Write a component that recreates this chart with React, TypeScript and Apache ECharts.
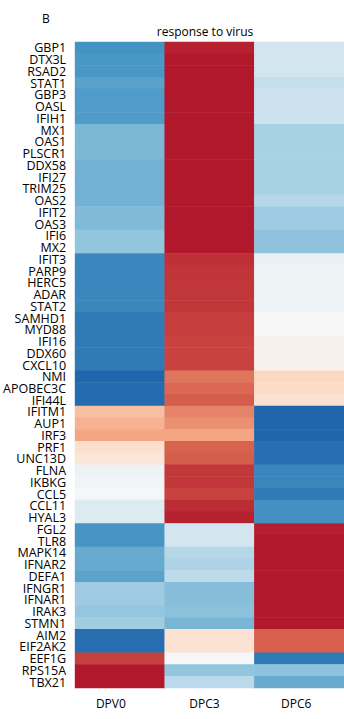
import React, { useEffect, useRef } from "react";
import * as echarts from "echarts";

// Genes of the "response to virus" set, top to bottom
const genes = [
  "GBP1", "DTX3L", "RSAD2", "STAT1", "GBP3", "OASL", "IFIH1", "MX1", "OAS1", "PLSCR1",
  "DDX58", "IFI27", "TRIM25", "OAS2", "IFIT2", "OAS3", "IFI6", "MX2", "IFIT3", "PARP9",
  "HERC5", "ADAR", "STAT2", "SAMHD1", "MYD88", "IFI16", "DDX60", "CXCL10", "NMI", "APOBEC3C",
  "IFI44L", "IFITM1", "AUP1", "IRF3", "PRF1", "UNC13D", "FLNA", "IKBKG", "CCL5", "CCL11",
  "HYAL3", "FGL2", "TLR8", "MAPK14", "IFNAR2", "DEFA1", "IFNGR1", "IFNAR1", "IRAK3", "STMN1",
  "AIM2", "EIF2AK2", "EEF1G", "RPS15A", "TBX21",
];

const conditions = ["DPV0", "DPC3", "DPC6"];

// Scaled expression per condition (-1 = lowest, +1 = highest)
const dpv0Values = [
  -0.75, -0.73, -0.73, -0.68, -0.71, -0.71, -0.71, -0.57, -0.57, -0.57,
  -0.6, -0.6, -0.6, -0.6, -0.555, -0.555, -0.5, -0.5, -0.815, -0.815,
  -0.815, -0.815, -0.815, -0.89, -0.89, -0.89, -0.89, -0.89, -1.0, -0.97,
  -0.97, 0.38, 0.44, 0.5, 0.21, 0.16, -0.065, -0.04, -0.01, -0.18,
  -0.18, -0.74, -0.74, -0.63, -0.635, -0.67, -0.45, -0.45, -0.49, -0.44,
  -0.95, -0.95, 0.86, 1.0, 1.0,
];

const dpc3Values = [
  0.97, 1.0, 1.0, 1.0, 1.0, 1.0, 1.0, 1.0, 1.0, 1.0,
  1.0, 1.0, 1.0, 1.0, 1.0, 1.0, 1.0, 1.0, 0.92, 0.9,
  0.895, 0.895, 0.895, 0.87, 0.87, 0.85, 0.85, 0.85, 0.675, 0.72,
  0.76, 0.62, 0.575, 0.5, 0.74, 0.76, 0.89, 0.89, 0.85, 0.93,
  0.97, -0.24, -0.24, -0.36, -0.39, -0.33, -0.54, -0.535, -0.52, -0.58,
  0.19, 0.19, -0.01, -0.5, -0.34,
];

const dpc6Values = [
  -0.24, -0.24, -0.24, -0.3, -0.27, -0.27, -0.27, -0.41, -0.41, -0.41,
  -0.41, -0.41, -0.41, -0.36, -0.45, -0.45, -0.51, -0.51, -0.09, -0.06,
  -0.06, -0.06, -0.06, 0.0, 0.0, 0.06, 0.06, 0.06, 0.27, 0.25,
  0.18, -1.0, -1.0, -1.0, -0.95, -0.95, -0.82, -0.82, -0.89, -0.76,
  -0.76, 0.98, 1.0, 1.0, 1.0, 1.0, 1.0, 1.0, 1.0, 1.0,
  0.75, 0.75, -0.89, -0.51, -0.63,
];

// Diverging red-blue ramp, low to high
const palette = [
  "#2166ac", "#4393c3", "#92c5de", "#d1e5f0", "#f7f7f7",
  "#fddbc7", "#f4a582", "#d6604d", "#b2182b",
];

const LABEL_FONT = "'Open Sans', 'Noto Sans', sans-serif";

// Column captions sit a little left of each column's centre
const captionPads: Record<string, number> = { DPV0: 18, DPC3: 10, DPC6: 6 };

export default function App() {
  const ref = useRef<HTMLDivElement>(null);

  useEffect(() => {
    if (!ref.current) return;
    const chart = echarts.init(ref.current, undefined, { renderer: "svg" });

    const columns = [dpv0Values, dpc3Values, dpc6Values];
    const cells: [number, number, number][] = [];
    columns.forEach((col, ci) => {
      col.forEach((v, ri) => cells.push([ci, ri, v]));
    });

    const rich: Record<string, any> = {};
    conditions.forEach((c, i) => {
      rich["c" + i] = {
        fontFamily: LABEL_FONT,
        fontSize: 12,
        color: "#000",
        padding: [0, captionPads[c] ?? 0, 0, 0],
      };
    });

    chart.setOption({
      animation: false,
      backgroundColor: "#ffffff",
      grid: { left: 64, top: 42, width: 282, height: 646, containLabel: false },
      xAxis: {
        type: "category",
        data: conditions,
        position: "bottom",
        axisLine: { show: false },
        axisTick: { show: false },
        splitLine: { show: false },
        axisLabel: {
          margin: 9,
          formatter: (v: string) => `{c${conditions.indexOf(v)}|${v}}`,
          rich,
        },
      },
      yAxis: {
        type: "category",
        data: genes,
        inverse: true,
        axisLine: { show: false },
        axisTick: { show: false },
        splitLine: { show: false },
        axisLabel: {
          margin: 9,
          interval: 0,
          fontFamily: LABEL_FONT,
          fontSize: 12.5,
          lineHeight: 11,
          color: "#000",
        },
      },
      visualMap: {
        show: false,
        type: "continuous",
        min: -1,
        max: 1,
        dimension: 2,
        inRange: { color: palette },
      },
      graphic: [
        {
          type: "text",
          left: 42,
          top: 12,
          style: { text: "B", font: `12px ${LABEL_FONT}`, fill: "#000" },
        },
        {
          type: "text",
          x: 205,
          y: 31,
          style: {
            text: "response to virus",
            font: `12px ${LABEL_FONT}`,
            fill: "#000",
            textAlign: "center",
            textVerticalAlign: "middle",
          },
        },
      ],
      series: [
        {
          type: "heatmap",
          data: cells,
          itemStyle: { borderWidth: 0 },
          emphasis: { disabled: true },
          label: { show: false },
        },
      ],
    });

    return () => chart.dispose();
  }, []);

  return (
    <div
      ref={ref}
      style={{ position: "fixed", left: 0, top: 0, width: 344, height: 719, background: "#fff" }}
    />
  );
}
